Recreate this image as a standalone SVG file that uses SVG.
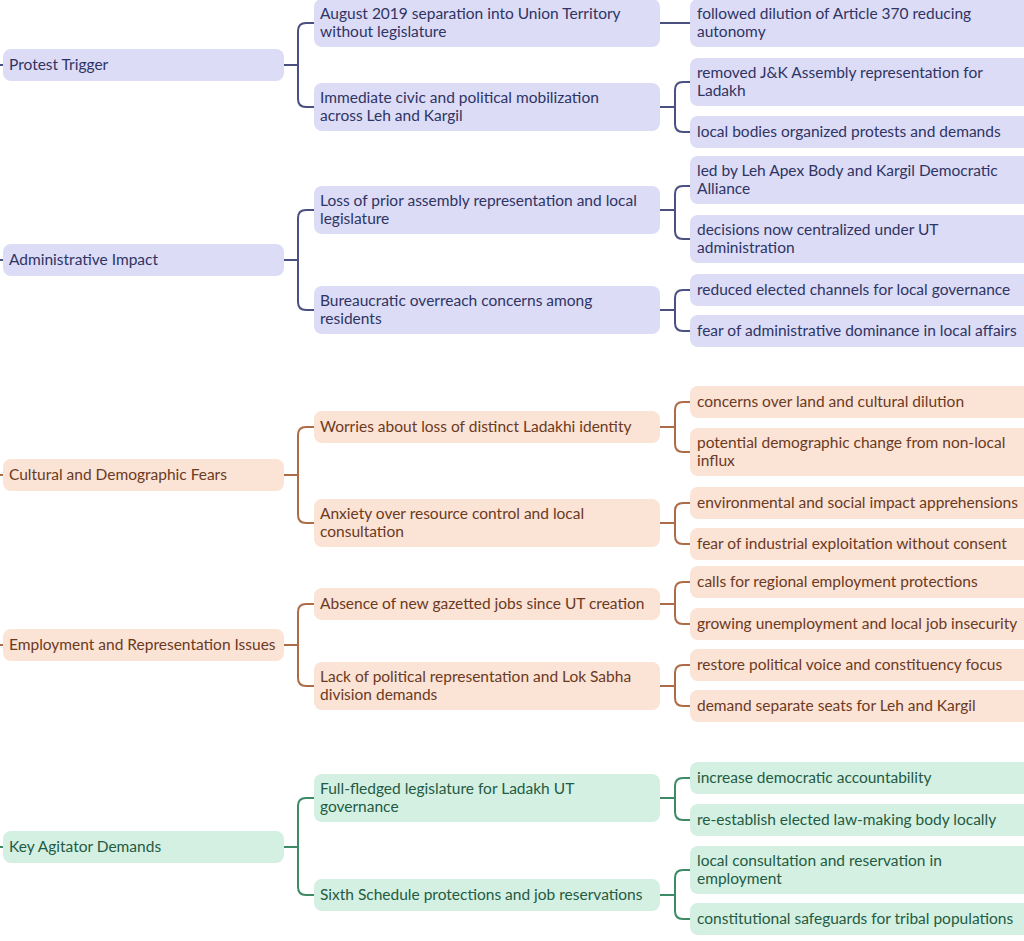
<svg xmlns="http://www.w3.org/2000/svg" width="1024" height="941" viewBox="0 0 1024 941">
<style>
text{font-family:Lato,"Noto Sans","Liberation Sans",sans-serif;font-size:15.5px}
.b rect{fill:#dcdcf7}.b text{fill:#2f3463}
.o rect{fill:#fbe3d6}.o text{fill:#6b3a22}
.g rect{fill:#d3f0e2}.g text{fill:#255b42}
.cb{fill:none;stroke:#4a5082;stroke-width:2}
.co{fill:none;stroke:#ad6c47;stroke-width:2}
.cg{fill:none;stroke:#3c8a66;stroke-width:2}
</style>
<rect width="1024" height="941" fill="#ffffff"/>
<g id="connectors">
<path class="cb" d="M-5,65H3M-5,260H3"/>
<path class="co" d="M-5,475H3M-5,645H3"/>
<path class="cg" d="M-5,847H3"/>
<path class="cb" d="M284,65H298M314,23H306Q298,23 298,31V99Q298,107 306,107H314"/>
<path class="cb" d="M284,260H298M314,210H306Q298,210 298,218V302Q298,310 306,310H314"/>
<path class="co" d="M284,475H298M314,427H306Q298,427 298,435V515Q298,523 306,523H314"/>
<path class="co" d="M284,645H298M314,604H306Q298,604 298,612V678Q298,686 306,686H314"/>
<path class="cg" d="M284,847H298M314,798H306Q298,798 298,806V887Q298,895 306,895H314"/>
<path class="cb" d="M660,23H690"/>
<path class="cb" d="M660,107H675M690,82H683Q675,82 675,90V124Q675,132 683,132H690"/>
<path class="cb" d="M660,210H675M690,186H683Q675,186 675,194V231Q675,239 683,239H690"/>
<path class="cb" d="M660,310H675M690,290H683Q675,290 675,298V323Q675,331 683,331H690"/>
<path class="co" d="M660,427H675M690,402H683Q675,402 675,410V444Q675,452 683,452H690"/>
<path class="co" d="M660,523H675M690,503H683Q675,503 675,511V536Q675,544 683,544H690"/>
<path class="co" d="M660,604H675M690,582H683Q675,582 675,590V616Q675,624 683,624H690"/>
<path class="co" d="M660,686H675M690,665H683Q675,665 675,673V698Q675,706 683,706H690"/>
<path class="cg" d="M660,798H675M690,778H683Q675,778 675,786V812Q675,820 683,820H690"/>
<path class="cg" d="M660,895H675M690,870H683Q675,870 675,878V911Q675,919 683,919H690"/>
</g>
<g id="n-protest" class="b"><rect x="3" y="49" width="281" height="32" rx="8"/><text x="9" y="70">Protest Trigger</text></g>
<g id="n-admin" class="b"><rect x="3" y="244" width="281" height="32" rx="8"/><text x="9" y="265">Administrative Impact</text></g>
<g id="n-cultural" class="o"><rect x="3" y="459" width="281" height="32" rx="8"/><text x="9" y="480">Cultural and Demographic Fears</text></g>
<g id="n-employment" class="o"><rect x="3" y="629" width="281" height="32" rx="8"/><text x="9" y="650">Employment and Representation Issues</text></g>
<g id="n-demands" class="g"><rect x="3" y="831" width="281" height="32" rx="8"/><text x="9" y="852">Key Agitator Demands</text></g>

<g id="n-aug" class="b"><rect x="314" y="-1" width="346" height="48" rx="8"/><text x="320" y="19">August 2019 separation into Union Territory</text><text x="320" y="37">without legislature</text></g>
<g id="n-immediate" class="b"><rect x="314" y="83" width="346" height="48" rx="8"/><text x="320" y="103">Immediate civic and political mobilization</text><text x="320" y="121">across Leh and Kargil</text></g>
<g id="n-loss" class="b"><rect x="314" y="186" width="346" height="48" rx="8"/><text x="320" y="206">Loss of prior assembly representation and local</text><text x="320" y="224">legislature</text></g>
<g id="n-bureau" class="b"><rect x="314" y="286" width="346" height="48" rx="8"/><text x="320" y="306">Bureaucratic overreach concerns among</text><text x="320" y="324">residents</text></g>
<g id="n-worries" class="o"><rect x="314" y="411" width="346" height="32" rx="8"/><text x="320" y="432">Worries about loss of distinct Ladakhi identity</text></g>
<g id="n-anxiety" class="o"><rect x="314" y="499" width="346" height="48" rx="8"/><text x="320" y="519">Anxiety over resource control and local</text><text x="320" y="537">consultation</text></g>
<g id="n-absence" class="o"><rect x="314" y="588" width="346" height="32" rx="8"/><text x="320" y="609">Absence of new gazetted jobs since UT creation</text></g>
<g id="n-lack" class="o"><rect x="314" y="662" width="346" height="48" rx="8"/><text x="320" y="682">Lack of political representation and Lok Sabha</text><text x="320" y="700">division demands</text></g>
<g id="n-full" class="g"><rect x="314" y="774" width="346" height="48" rx="8"/><text x="320" y="794">Full-fledged legislature for Ladakh UT</text><text x="320" y="812">governance</text></g>
<g id="n-sixth" class="g"><rect x="314" y="879" width="346" height="32" rx="8"/><text x="320" y="900">Sixth Schedule protections and job reservations</text></g>

<g id="n-followed" class="b"><rect x="690" y="-1" width="350" height="48" rx="8"/><text x="697" y="19">followed dilution of Article 370 reducing</text><text x="697" y="37">autonomy</text></g>
<g id="n-removed" class="b"><rect x="690" y="58" width="350" height="48" rx="8"/><text x="697" y="78">removed J&amp;K Assembly representation for</text><text x="697" y="96">Ladakh</text></g>
<g id="n-localbodies" class="b"><rect x="690" y="116" width="350" height="32" rx="8"/><text x="697" y="137">local bodies organized protests and demands</text></g>
<g id="n-ledby" class="b"><rect x="690" y="156" width="350" height="48" rx="8"/><text x="697" y="176">led by Leh Apex Body and Kargil Democratic</text><text x="697" y="194">Alliance</text></g>
<g id="n-decisions" class="b"><rect x="690" y="215" width="350" height="48" rx="8"/><text x="697" y="235">decisions now centralized under UT</text><text x="697" y="253">administration</text></g>
<g id="n-reduced" class="b"><rect x="690" y="274" width="350" height="32" rx="8"/><text x="697" y="295">reduced elected channels for local governance</text></g>
<g id="n-fearadmin" class="b"><rect x="690" y="315" width="350" height="32" rx="8"/><text x="697" y="336">fear of administrative dominance in local affairs</text></g>
<g id="n-concerns" class="o"><rect x="690" y="386" width="350" height="32" rx="8"/><text x="697" y="407">concerns over land and cultural dilution</text></g>
<g id="n-potential" class="o"><rect x="690" y="428" width="350" height="48" rx="8"/><text x="697" y="448">potential demographic change from non-local</text><text x="697" y="466">influx</text></g>
<g id="n-env" class="o"><rect x="690" y="487" width="350" height="32" rx="8"/><text x="697" y="508">environmental and social impact apprehensions</text></g>
<g id="n-fearind" class="o"><rect x="690" y="528" width="350" height="32" rx="8"/><text x="697" y="549">fear of industrial exploitation without consent</text></g>
<g id="n-calls" class="o"><rect x="690" y="566" width="350" height="32" rx="8"/><text x="697" y="587">calls for regional employment protections</text></g>
<g id="n-growing" class="o"><rect x="690" y="608" width="350" height="32" rx="8"/><text x="697" y="629">growing unemployment and local job insecurity</text></g>
<g id="n-restore" class="o"><rect x="690" y="649" width="350" height="32" rx="8"/><text x="697" y="670">restore political voice and constituency focus</text></g>
<g id="n-seats" class="o"><rect x="690" y="690" width="350" height="32" rx="8"/><text x="697" y="711">demand separate seats for Leh and Kargil</text></g>
<g id="n-increase" class="g"><rect x="690" y="762" width="350" height="32" rx="8"/><text x="697" y="783">increase democratic accountability</text></g>
<g id="n-reest" class="g"><rect x="690" y="804" width="350" height="32" rx="8"/><text x="697" y="825">re-establish elected law-making body locally</text></g>
<g id="n-localcons" class="g"><rect x="690" y="846" width="350" height="48" rx="8"/><text x="697" y="866">local consultation and reservation in</text><text x="697" y="884">employment</text></g>
<g id="n-const" class="g"><rect x="690" y="903" width="350" height="32" rx="8"/><text x="697" y="924">constitutional safeguards for tribal populations</text></g>
</svg>
